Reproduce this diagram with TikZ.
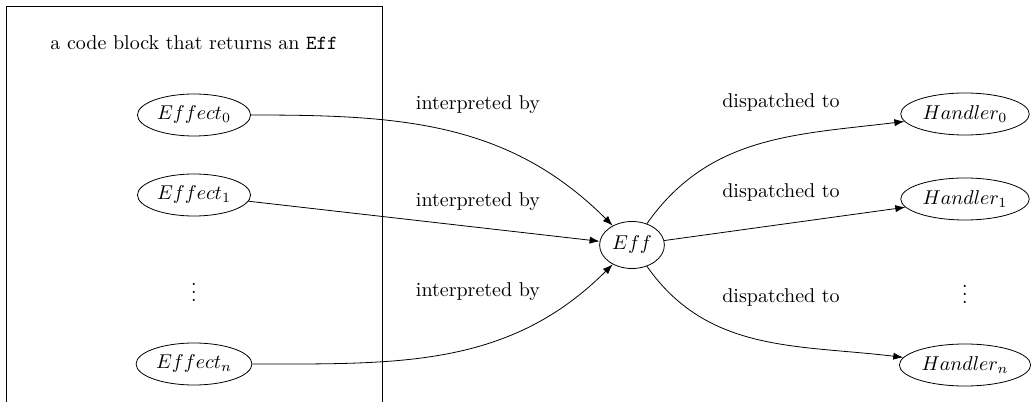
\documentclass[tikz,border=0pt]{standalone}
\usepackage{amsmath,amssymb}
\usepackage{tikz}
\usetikzlibrary{arrows.meta,shapes.geometric}

\begin{document}
\begin{tikzpicture}[x=0.5pt,y=0.5pt,
  oval/.style={draw,ellipse,inner sep=1.5pt,minimum height=21pt},
  flow/.style={-{Latex[length=5pt,width=3.6pt]}}]
\useasboundingbox (0,0) rectangle (1034,402);
% the code block
\draw (6,0) -- (6,396) -- (382,396) -- (382,0);
\node (title) at (194,359) {a code block that returns an \texttt{Eff}};
\node[oval] (e0) at (194,287) {$Effect_0$};
\node[oval] (e1) at (194,207) {$Effect_1$};
\node (edots) at (194,116) {$\vdots$};
\node[oval] (en) at (194,38) {$Effect_n$};
% the interpreter
\node[oval,minimum height=23.5pt] (eff) at (632,157) {$Eff$};
% handlers
\node[oval] (h0) at (965,288) {$Handler_0$};
\node[oval] (h1) at (965,203) {$Handler_1$};
\node (hdots) at (965,114) {$\vdots$};
\node[oval] (hn) at (965,37) {$Handler_n$};
% labels
\node (i0) at (478,297) {interpreted by};
\node (i1) at (478,200) {interpreted by};
\node (in) at (478,110) {interpreted by};
\node (d0) at (781,299) {dispatched to};
\node (d1) at (781,209) {dispatched to};
\node (dn) at (781,104) {dispatched to};
% edges
\draw[flow] (e0) to[out=0,in=135] (eff);
\draw[flow] (e1) -- (eff);
\draw[flow] (en) to[out=0,in=-135] (eff);
\draw[flow] (eff) to[out=55,in=187] (h0);
\draw[flow] (eff) -- (h1);
\draw[flow] (eff) to[out=-55,in=173] (hn);
\end{tikzpicture}
\end{document}
